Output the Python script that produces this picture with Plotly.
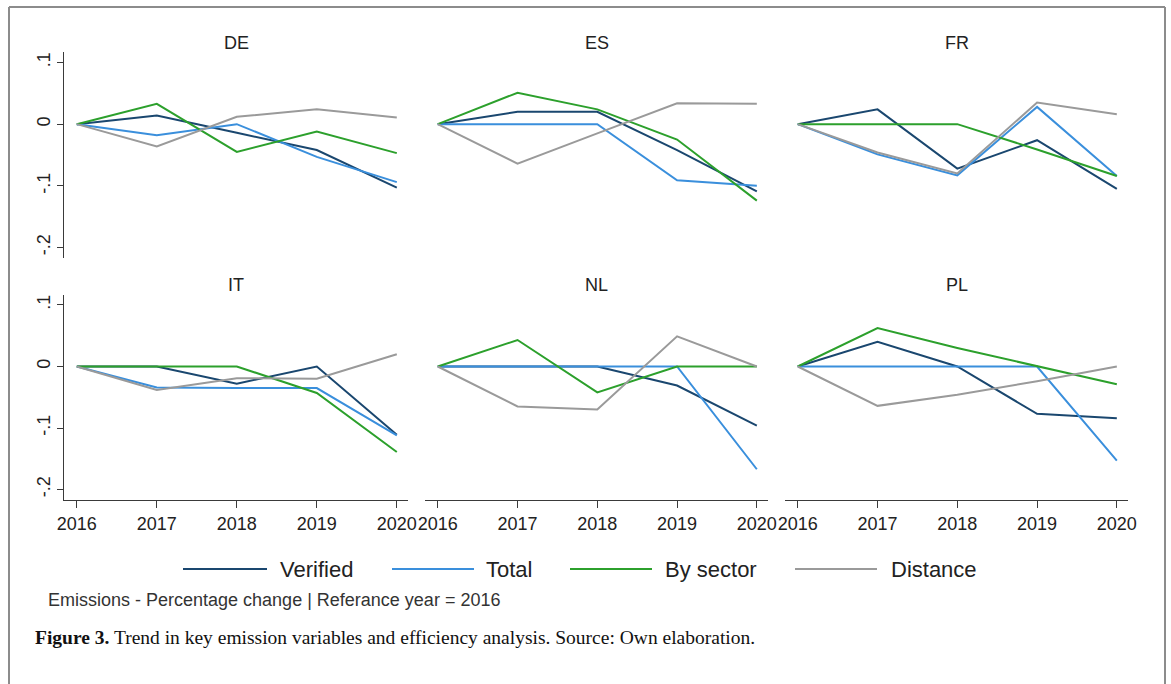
import plotly.graph_objects as go

# ---------------- data ----------------
years = [2016, 2017, 2018, 2019, 2020]
countries = ["DE", "ES", "FR", "IT", "NL", "PL"]
series_names = ["Verified", "Total", "By sector", "Distance"]
series_colors = ["#1a476f", "#3a8fdc", "#2ca02c", "#9a9a9a"]

y_tickvals = [-0.2, -0.1, 0, 0.1]
y_ticktext = ["-.2", "-.1", "0", ".1"]

verified_DE = [0, 0.014, -0.014, -0.042, -0.103]
total_DE = [0, -0.018, 0.0, -0.053, -0.094]
sector_DE = [0, 0.033, -0.045, -0.012, -0.047]
distance_DE = [0, -0.036, 0.012, 0.024, 0.011]

verified_ES = [0, 0.020, 0.020, -0.042, -0.109]
total_ES = [0, 0.0, 0.0, -0.091, -0.100]
sector_ES = [0, 0.051, 0.024, -0.025, -0.124]
distance_ES = [0, -0.064, -0.015, 0.034, 0.033]

verified_FR = [0, 0.024, -0.072, -0.026, -0.105]
total_FR = [0, -0.049, -0.083, 0.028, -0.084]
sector_FR = [0, 0.0, 0.0, -0.041, -0.084]
distance_FR = [0, -0.046, -0.080, 0.035, 0.016]

verified_IT = [0, 0.0, -0.028, 0.0, -0.111]
total_IT = [0, -0.034, -0.035, -0.035, -0.112]
sector_IT = [0, 0.0, 0.0, -0.043, -0.139]
distance_IT = [0, -0.038, -0.019, -0.020, 0.020]

verified_NL = [0, 0.0, 0.0, -0.031, -0.096]
total_NL = [0, 0.0, 0.0, 0.0, -0.167]
sector_NL = [0, 0.043, -0.042, 0.0, 0.0]
distance_NL = [0, -0.065, -0.070, 0.049, 0.0]

verified_PL = [0, 0.040, 0.0, -0.077, -0.084]
total_PL = [0, 0.0, 0.0, 0.0, -0.153]
sector_PL = [0, 0.0625, 0.030, 0.0, -0.029]
distance_PL = [0, -0.064, -0.046, -0.024, 0.0]

panel_data = {
    "DE": [verified_DE, total_DE, sector_DE, distance_DE],
    "ES": [verified_ES, total_ES, sector_ES, distance_ES],
    "FR": [verified_FR, total_FR, sector_FR, distance_FR],
    "IT": [verified_IT, total_IT, sector_IT, distance_IT],
    "NL": [verified_NL, total_NL, sector_NL, distance_NL],
    "PL": [verified_PL, total_PL, sector_PL, distance_PL],
}

note_text = "Emissions - Percentage change | Referance year = 2016"
caption_bold = "Figure 3."
caption_text = " Trend in key emission variables and efficiency analysis. Source: Own elaboration."

# ---------------- layout helpers ----------------
W, H = 1171, 684
SANS = "Liberation Sans, Arial, sans-serif"
SERIF = "Liberation Serif, Times New Roman, serif"
AX = "#3a3a3a"


def px(x):
    return x / W


def py(y):
    return 1 - y / H


col_px = [(64, 408), (425, 768), (785, 1128)]
row_px = [(52, 258), (294.5, 500)]
x_range = [2015.84, 2020.14]
y_range = [-0.217, 0.117]

fig = go.Figure()
layout = {}
annotations = []

for i, c in enumerate(countries):
    r, k = divmod(i, 3)
    n = i + 1
    xa = "x" if n == 1 else f"x{n}"
    ya = "y" if n == 1 else f"y{n}"
    for s, (name, color) in enumerate(zip(series_names, series_colors)):
        fig.add_trace(go.Scatter(
            x=years, y=panel_data[c][s], mode="lines", name=name,
            line=dict(color=color, width=2), xaxis=xa, yaxis=ya,
            showlegend=False, hoverinfo="x+y+name"))
    xd = [px(col_px[k][0]), px(col_px[k][1])]
    yd = [py(row_px[r][1]), py(row_px[r][0])]
    show_x = r == 1
    show_y = k == 0
    layout["xaxis" if n == 1 else f"xaxis{n}"] = dict(
        domain=xd, range=x_range, anchor=ya,
        visible=show_x, showgrid=False, zeroline=False,
        showline=True, linecolor=AX, linewidth=1.3,
        tickmode="array", tickvals=years, ticktext=[str(y) for y in years],
        ticks="outside", ticklen=7, tickcolor=AX, tickwidth=1.3,
        tickfont=dict(family=SANS, size=18, color="#222"),
        automargin=False,
    )
    layout["yaxis" if n == 1 else f"yaxis{n}"] = dict(
        domain=yd, range=y_range, anchor=xa,
        visible=show_y, showgrid=False, zeroline=False,
        showline=True, linecolor=AX, linewidth=1.3,
        tickmode="array", tickvals=y_tickvals, ticktext=y_ticktext,
        ticks="outside", ticklen=6, tickcolor=AX, tickwidth=1.3,
        tickangle=-90,
        tickfont=dict(family=SANS, size=18, color="#222"),
        automargin=False,
    )
    title_y = 43 if r == 0 else 285
    annotations.append(dict(
        text=c, x=(xd[0] + xd[1]) / 2, y=py(title_y), xref="paper", yref="paper",
        showarrow=False, xanchor="center", yanchor="middle",
        font=dict(family=SANS, size=18, color="#222")))

# ---------------- legend (drawn) ----------------
legend_y = 569
legend_line_px = [(183, 267), (392, 474), (570, 652), (795, 877)]
legend_text_px = [278, 484, 663, 889]
shapes = []
for (x0, x1), tx, name, color in zip(legend_line_px, legend_text_px, series_names, series_colors):
    shapes.append(dict(type="line", xref="paper", yref="paper",
                       x0=px(x0), x1=px(x1), y0=py(legend_y), y1=py(legend_y),
                       line=dict(color=color, width=2)))
    annotations.append(dict(
        text=name, x=px(tx), y=py(legend_y), xref="paper", yref="paper",
        showarrow=False, xanchor="left", yanchor="middle",
        font=dict(family=SANS, size=22, color="#222")))

annotations.append(dict(
    text=note_text, x=px(46), y=py(600), xref="paper", yref="paper",
    showarrow=False, xanchor="left", yanchor="middle",
    font=dict(family=SANS, size=18, color="#333")))

annotations.append(dict(
    text=f"<b>{caption_bold}</b>{caption_text}", x=px(33), y=py(637),
    xref="paper", yref="paper", showarrow=False, xanchor="left", yanchor="middle",
    font=dict(family=SERIF, size=19.5, color="#111")))

# outer frame (open at the bottom)
frame = dict(color="#8c8c8c", width=2)
shapes.append(dict(type="line", xref="paper", yref="paper", x0=px(9), x1=px(9), y0=py(7), y1=py(700), line=frame))
shapes.append(dict(type="line", xref="paper", yref="paper", x0=px(1165), x1=px(1165), y0=py(7), y1=py(700), line=frame))
shapes.append(dict(type="line", xref="paper", yref="paper", x0=px(9), x1=px(1165), y0=py(7), y1=py(7), line=frame))

fig.update_layout(
    width=W, height=H, margin=dict(l=0, r=0, t=0, b=0, pad=0, autoexpand=False),
    autosize=False,
    paper_bgcolor="white", plot_bgcolor="white",
    showlegend=False, annotations=annotations, shapes=shapes,
    **layout)

fig.write_html(
    "out.html",
    config={"responsive": False},
    post_script="document.body.style.margin='0';document.body.style.overflow='hidden';",
)
